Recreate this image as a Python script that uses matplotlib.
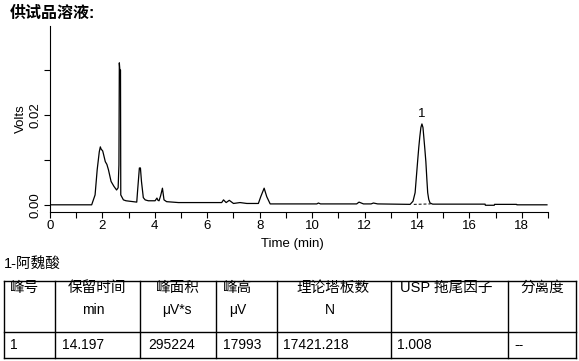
import matplotlib
matplotlib.use('Agg')
import matplotlib.pyplot as plt

plt.rcParams['font.family'] = ['Liberation Sans', 'Noto Sans CJK SC', 'DejaVu Sans']

# chromatogram trace (min, volts)
time_pts = [0.0, 1.59, 1.72, 1.80, 1.88, 1.92, 1.95, 1.98, 2.01, 2.04, 2.11, 2.17,
            2.23, 2.28, 2.33, 2.44, 2.54, 2.60, 2.63, 2.645, 2.665, 2.69, 2.70,
            2.80, 2.90, 3.31, 3.34, 3.41, 3.45, 3.49, 3.56, 3.63, 3.75, 4.01,
            4.08, 4.12, 4.16, 4.22, 4.29, 4.35, 4.45, 4.90, 6.55, 6.62, 6.72,
            6.84, 7.00, 7.25, 7.51, 7.95, 8.04, 8.17, 8.27, 8.40, 10.18, 10.24,
            10.32, 11.70, 11.79, 11.96, 12.25, 12.34, 12.50, 13.74, 13.85, 13.93,
            14.03, 14.07, 14.11, 14.15, 14.19, 14.23, 14.26, 14.30, 14.34, 14.38,
            14.41, 14.45, 14.50, 14.60, 16.60, 16.61, 16.95, 16.96, 17.80, 17.81,
            18.96]
volt_pts = [0.0, 0.0, 0.0022, 0.0078, 0.0118, 0.0129, 0.0124, 0.0122, 0.0120,
            0.0113, 0.0096, 0.0090, 0.0078, 0.0065, 0.0052, 0.0041, 0.0033,
            0.0038, 0.0089, 0.0316, 0.0300, 0.0300, 0.0022, 0.0011, 0.0009,
            0.0006, 0.0030, 0.0082, 0.0082, 0.0052, 0.0016, 0.0011, 0.0009,
            0.0009, 0.0015, 0.0010, 0.0009, 0.0020, 0.0037, 0.0011, 0.0007,
            0.0005, 0.0005, 0.0011, 0.0005, 0.0010, 0.0003, 0.0005, 0.0003,
            0.0003, 0.0018, 0.0037, 0.0018, 0.0002, 0.0002, 0.0004, 0.0002,
            0.0002, 0.0006, 0.0002, 0.0002, 0.0004, 0.0002, 0.0001, 0.0008,
            0.0027, 0.0100, 0.0128, 0.0152, 0.0172, 0.0180, 0.0172, 0.0152,
            0.0125, 0.0096, 0.0055, 0.0027, 0.0012, 0.0004, 0.00015, 0.00015,
            -0.0001, -0.0001, 0.0001, 0.0001, 0.0, 0.0]

# integration baseline of peak 1
base_t = [13.88, 14.52]
base_v = [0.0001, 0.0002]

peak_label = '1'
peak_t = 14.19
peak_v = 0.0180

# result table
compound = '1-阿魏酸'
header1 = ['峰号', '保留时间', '峰面积', '峰高', '理论塔板数', 'USP 拖尾因子', '分离度']
header2 = ['', 'min', 'μV*s', 'μV', 'N', '', '']
row = ['1', '14.197', '295224', '17993', '17421.218', '1.008', '--']

fig = plt.figure(figsize=(5.79, 3.61), dpi=100)

# chromatogram
ax = fig.add_axes([50 / 579, 1 - 212 / 361, 498 / 579, 186 / 361])
ax.plot(time_pts, volt_pts, color='black', lw=0.9)
ax.plot(base_t, base_v, color='black', lw=0.7, ls=(0, (3, 2)))
ax.text(peak_t, peak_v + 0.0008, peak_label, ha='center', va='bottom', fontsize=9.5)
ax.set_xlim(0, 19)
ax.set_ylim(-0.0016, 0.0398)
ax.set_xticks(range(0, 19, 2))
ax.set_xticks(range(0, 20), minor=True)
ax.set_yticks([0.0, 0.01, 0.02, 0.03])
ax.set_yticklabels(['0.00', '', '0.02', ''])
for lab in ax.get_yticklabels():
    lab.set_rotation(90)
    lab.set_va('center')
ax.tick_params(axis='both', labelsize=9.5, length=4, width=0.8, pad=2)
ax.tick_params(axis='x', which='minor', length=4, width=0.8)
ax.spines['top'].set_visible(False)
ax.spines['right'].set_visible(False)
ax.set_xlabel('Time (min)', fontsize=9.5, labelpad=1)
ax.xaxis.set_label_coords(0.486, -0.14)
ax.set_ylabel('Volts', fontsize=9.5, labelpad=2)

fig.text(10 / 579, 1 - 13 / 361, '供试品溶液:', fontsize=11.5, fontweight='bold',
         va='center', ha='left')

# table drawn in pixel coordinates
tab = fig.add_axes([0, 0, 1, 1])
tab.set_xlim(0, 579)
tab.set_ylim(361, 0)
tab.axis('off')
tab.patch.set_alpha(0)

col_x = [4, 55, 140, 216, 277, 391, 508, 576]
row_y = [281, 332, 358]
text_x = [10, 68, 156, 223, 296, 400, 520]
sub_x = [10, 82, 162, 229, 325, 400, 520]
data_x = [10, 62, 148, 223, 283, 397, 514]

tab.text(4, 264, compound, fontsize=10.5, va='center', ha='left')
for x in col_x:
    tab.plot([x, x], [row_y[0], row_y[-1]], color='black', lw=1)
for y in row_y:
    tab.plot([col_x[0], col_x[-1]], [y, y], color='black', lw=1)
for i in range(len(header1)):
    tab.text(text_x[i], 288, header1[i], fontsize=10.5, va='center', ha='left')
    tab.text(sub_x[i], 310, header2[i], fontsize=10, va='center', ha='left')
    tab.text(data_x[i], 345, row[i], fontsize=10, va='center', ha='left')

fig.savefig('out.png', dpi=100)
